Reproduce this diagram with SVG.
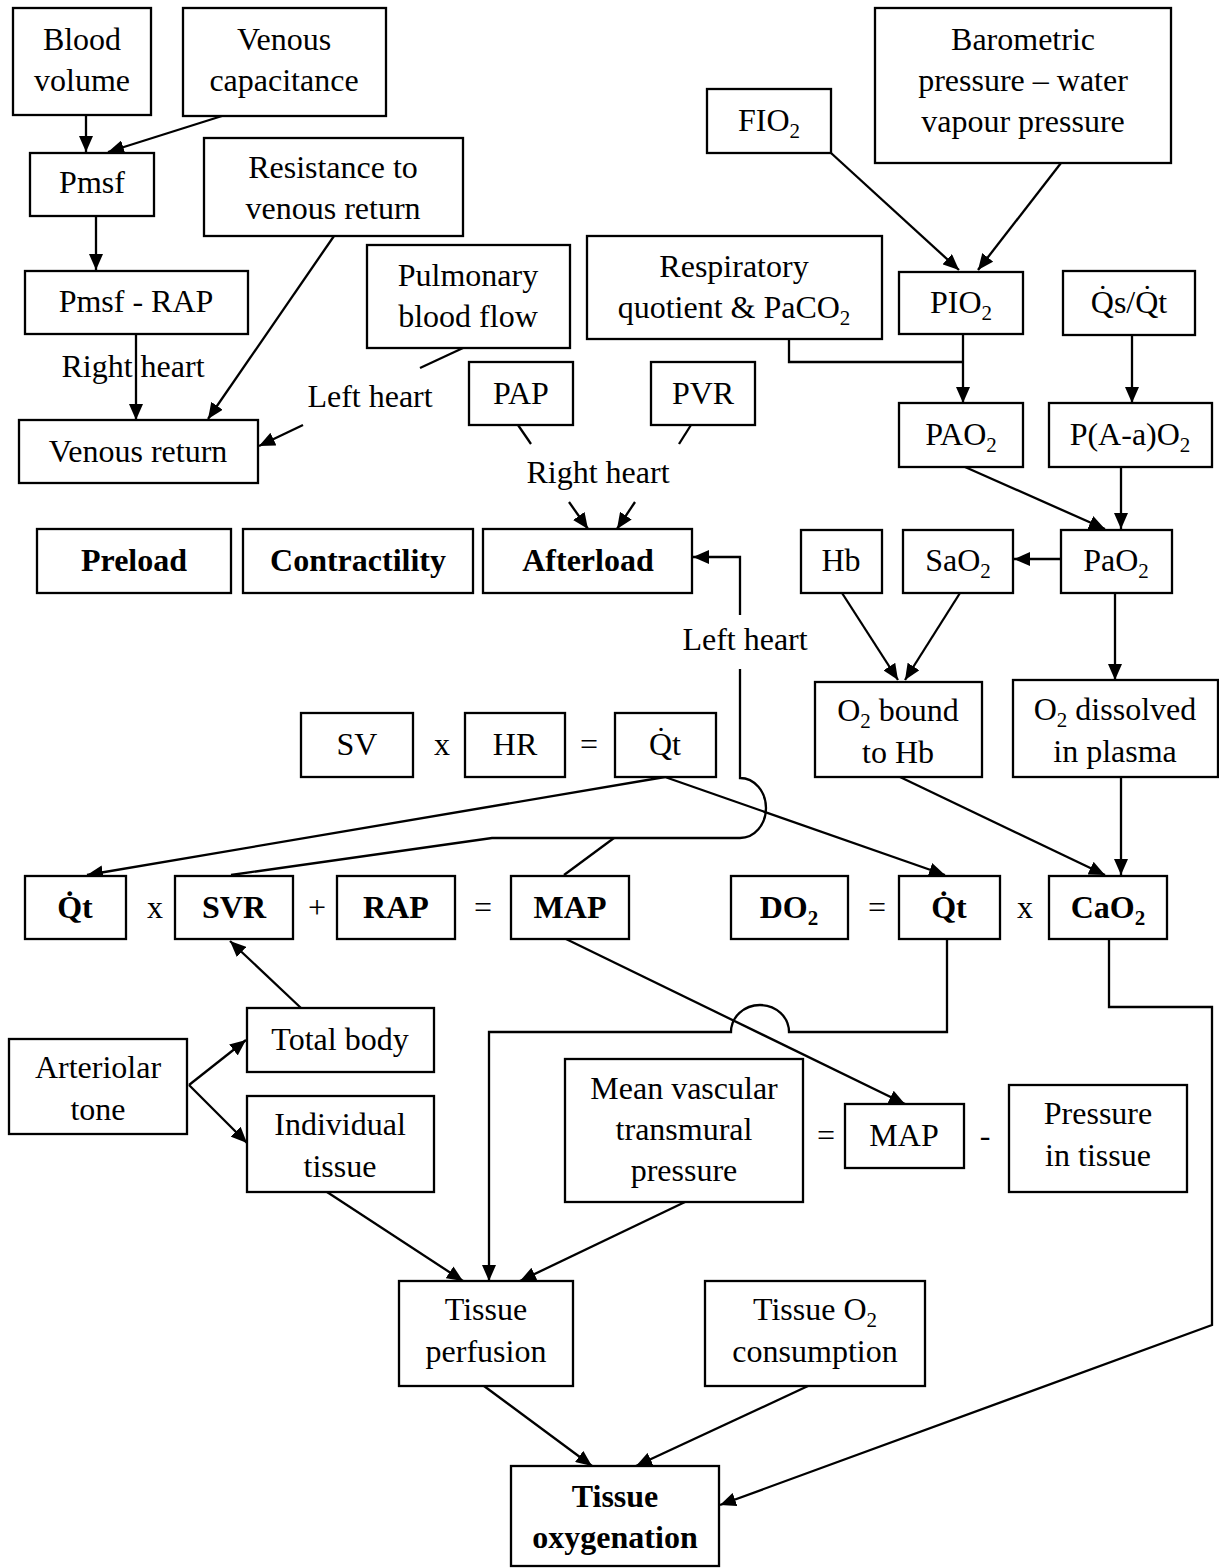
<svg xmlns="http://www.w3.org/2000/svg" width="1219" height="1568" viewBox="0 0 1219 1568">
<style>
.bx{fill:#fff;stroke:#000;stroke-width:2.3}
text{font-family:"Liberation Serif","Times New Roman",serif;font-size:32px;fill:#000;text-anchor:middle}
.b{font-weight:bold}
.c{fill:none;stroke:#000;stroke-width:2.3}
.s{font-size:21px}
</style>
<defs>
<marker id="ah" markerUnits="userSpaceOnUse" markerWidth="17" markerHeight="14" refX="16" refY="7" orient="auto">
<path d="M0,0 L16,7 L0,14 z" fill="#000"/>
</marker>
</defs>
<rect width="1219" height="1568" fill="#fff"/>

<g id="connectors">
<path class="c" d="M86,115 V152" marker-end="url(#ah)"/>
<path class="c" d="M222,116 L108,152" marker-end="url(#ah)"/>
<path class="c" d="M96,216 V270" marker-end="url(#ah)"/>
<path class="c" d="M136,334 V420" marker-end="url(#ah)"/>
<path class="c" d="M334,236 L208,419" marker-end="url(#ah)"/>
<path class="c" d="M463,348 L420,368"/>
<path class="c" d="M303,425 L259,446" marker-end="url(#ah)"/>
<path class="c" d="M518,425 L531,444"/>
<path class="c" d="M691,425 L679,444"/>
<path class="c" d="M569,502 L588,529" marker-end="url(#ah)"/>
<path class="c" d="M635,502 L617,529" marker-end="url(#ah)"/>
<path class="c" d="M740,615 V557 H693" marker-end="url(#ah)"/>
<path class="c" d="M740,669 V778 A26 30 0 0 1 740,838 H492 L231,875"/>
<path class="c" d="M614,838 L564,875"/>
<path class="c" d="M665,777 L87,875" marker-end="url(#ah)"/>
<path class="c" d="M665,777 L945,875" marker-end="url(#ah)"/>
<path class="c" d="M789,339 V362 H963"/>
<path class="c" d="M963,334 V403" marker-end="url(#ah)"/>
<path class="c" d="M831,153 L959,270" marker-end="url(#ah)"/>
<path class="c" d="M1061,163 L978,270" marker-end="url(#ah)"/>
<path class="c" d="M1132,334 V403" marker-end="url(#ah)"/>
<path class="c" d="M965,467 L1105,529" marker-end="url(#ah)"/>
<path class="c" d="M1121,467 V529" marker-end="url(#ah)"/>
<path class="c" d="M1061,559 H1014" marker-end="url(#ah)"/>
<path class="c" d="M842,593 L898,680" marker-end="url(#ah)"/>
<path class="c" d="M960,593 L905,680" marker-end="url(#ah)"/>
<path class="c" d="M1115,593 V680" marker-end="url(#ah)"/>
<path class="c" d="M900,777 L1105,875" marker-end="url(#ah)"/>
<path class="c" d="M1121,777 V875" marker-end="url(#ah)"/>
<path class="c" d="M301,1008 L230,941" marker-end="url(#ah)"/>
<path class="c" d="M189,1085 L246,1040" marker-end="url(#ah)"/>
<path class="c" d="M189,1085 L247,1143" marker-end="url(#ah)"/>
<path class="c" d="M566,939 L905,1104" marker-end="url(#ah)"/>
<path class="c" d="M947,939 V1032 H789 A29 27 0 0 0 731,1032 H489 V1281" marker-end="url(#ah)"/>
<path class="c" d="M327,1192 L463,1281" marker-end="url(#ah)"/>
<path class="c" d="M685,1202 L520,1281" marker-end="url(#ah)"/>
<path class="c" d="M1109,939 V1007 H1212 V1325 L720,1505" marker-end="url(#ah)"/>
<path class="c" d="M484,1386 L592,1466" marker-end="url(#ah)"/>
<path class="c" d="M808,1386 L636,1466" marker-end="url(#ah)"/>
</g>

<g id="labels">
<text x="133" y="377">Right heart</text>
<text x="370" y="407">Left heart</text>
<text x="598" y="483">Right heart</text>
<text x="745" y="650">Left heart</text>
<text x="442" y="755">x</text>
<text x="589" y="755">=</text>
<text x="155" y="918">x</text>
<text x="317" y="918">+</text>
<text x="483" y="918">=</text>
<text x="877" y="918">=</text>
<text x="1025" y="918">x</text>
<text x="826" y="1146">=</text>
<text x="985" y="1146">-</text>
</g>

<g id="n-blood-volume"><rect class="bx" x="13" y="8" width="138" height="107"/><text x="82" y="50">Blood</text><text x="82" y="91">volume</text></g>
<g id="n-venous-capacitance"><rect class="bx" x="183" y="8" width="203" height="108"/><text x="284" y="50">Venous</text><text x="284" y="91">capacitance</text></g>
<g id="n-pmsf"><rect class="bx" x="30" y="153" width="124" height="63"/><text x="92" y="193">Pmsf</text></g>
<g id="n-resistance"><rect class="bx" x="204" y="138" width="259" height="98"/><text x="333" y="178">Resistance to</text><text x="333" y="219">venous return</text></g>
<g id="n-pmsf-rap"><rect class="bx" x="25" y="271" width="223" height="63"/><text x="136" y="312">Pmsf - RAP</text></g>
<g id="n-pbf"><rect class="bx" x="367" y="245" width="203" height="103"/><text x="468" y="286">Pulmonary</text><text x="468" y="327">blood flow</text></g>
<g id="n-resp"><rect class="bx" x="587" y="236" width="295" height="103"/><text x="734" y="277">Respiratory</text><text x="734" y="318">quotient &amp; PaCO<tspan class="s" dy="7">2</tspan></text></g>
<g id="n-fio2"><rect class="bx" x="707" y="89" width="124" height="64"/><text x="769" y="131">FIO<tspan class="s" dy="7">2</tspan></text></g>
<g id="n-baro"><rect class="bx" x="875" y="8" width="296" height="155"/><text x="1023" y="50">Barometric</text><text x="1023" y="91">pressure – water</text><text x="1023" y="132">vapour pressure</text></g>
<g id="n-pio2"><rect class="bx" x="899" y="272" width="124" height="62"/><text x="961" y="313">PIO<tspan class="s" dy="7">2</tspan></text></g>
<g id="n-qsqt"><rect class="bx" x="1063" y="271" width="132" height="64"/><text x="1129" y="313">Q̇s/Q̇t</text></g>
<g id="n-pao2-alv"><rect class="bx" x="899" y="403" width="124" height="64"/><text x="961" y="445">PAO<tspan class="s" dy="7">2</tspan></text></g>
<g id="n-aa"><rect class="bx" x="1049" y="403" width="163" height="64"/><text x="1130" y="445">P(A-a)O<tspan class="s" dy="7">2</tspan></text></g>
<g id="n-pap"><rect class="bx" x="469" y="362" width="104" height="63"/><text x="521" y="404">PAP</text></g>
<g id="n-pvr"><rect class="bx" x="651" y="362" width="104" height="63"/><text x="703" y="404">PVR</text></g>
<g id="n-venous-return"><rect class="bx" x="19" y="420" width="239" height="63"/><text x="138" y="462">Venous return</text></g>
<g id="n-preload"><rect class="bx" x="37" y="529" width="194" height="64"/><text class="b" x="134" y="571">Preload</text></g>
<g id="n-contractility"><rect class="bx" x="243" y="529" width="230" height="64"/><text class="b" x="358" y="571">Contractility</text></g>
<g id="n-afterload"><rect class="bx" x="483" y="529" width="209" height="64"/><text class="b" x="588" y="571">Afterload</text></g>
<g id="n-hb"><rect class="bx" x="801" y="530" width="81" height="63"/><text x="841" y="571">Hb</text></g>
<g id="n-sao2"><rect class="bx" x="903" y="530" width="110" height="63"/><text x="958" y="571">SaO<tspan class="s" dy="7">2</tspan></text></g>
<g id="n-pao2"><rect class="bx" x="1061" y="530" width="111" height="63"/><text x="1116" y="571">PaO<tspan class="s" dy="7">2</tspan></text></g>
<g id="n-sv"><rect class="bx" x="301" y="713" width="112" height="64"/><text x="357" y="755">SV</text></g>
<g id="n-hr"><rect class="bx" x="465" y="713" width="100" height="64"/><text x="515" y="755">HR</text></g>
<g id="n-qt-top"><rect class="bx" x="615" y="713" width="101" height="64"/><text x="665" y="755">Q̇t</text></g>
<g id="n-o2-bound"><rect class="bx" x="815" y="682" width="167" height="95"/><text x="898" y="721">O<tspan class="s" dy="7">2</tspan><tspan dy="-7"> bound</tspan></text><text x="898" y="763">to Hb</text></g>
<g id="n-o2-dissolved"><rect class="bx" x="1013" y="680" width="205" height="97"/><text x="1115" y="720">O<tspan class="s" dy="7">2</tspan><tspan dy="-7"> dissolved</tspan></text><text x="1115" y="762">in plasma</text></g>
<g id="n-qt-left"><rect class="bx" x="25" y="876" width="101" height="63"/><text class="b" x="75" y="918">Q̇t</text></g>
<g id="n-svr"><rect class="bx" x="175" y="876" width="118" height="63"/><text class="b" x="234" y="918">SVR</text></g>
<g id="n-rap"><rect class="bx" x="337" y="876" width="118" height="63"/><text class="b" x="396" y="918">RAP</text></g>
<g id="n-map"><rect class="bx" x="511" y="876" width="118" height="63"/><text class="b" x="570" y="918">MAP</text></g>
<g id="n-do2"><rect class="bx" x="731" y="876" width="117" height="63"/><text class="b" x="789" y="918">DO<tspan class="s" dy="7">2</tspan></text></g>
<g id="n-qt-right"><rect class="bx" x="899" y="876" width="101" height="63"/><text class="b" x="949" y="918">Q̇t</text></g>
<g id="n-cao2"><rect class="bx" x="1049" y="876" width="118" height="63"/><text class="b" x="1108" y="918">CaO<tspan class="s" dy="7">2</tspan></text></g>
<g id="n-total-body"><rect class="bx" x="247" y="1008" width="187" height="64"/><text x="340" y="1050">Total body</text></g>
<g id="n-arteriolar"><rect class="bx" x="9" y="1039" width="178" height="95"/><text x="98" y="1078">Arteriolar</text><text x="98" y="1120">tone</text></g>
<g id="n-individual"><rect class="bx" x="247" y="1096" width="187" height="96"/><text x="340" y="1135">Individual</text><text x="340" y="1177">tissue</text></g>
<g id="n-mean-vascular"><rect class="bx" x="565" y="1059" width="238" height="143"/><text x="684" y="1099">Mean vascular</text><text x="684" y="1140">transmural</text><text x="684" y="1181">pressure</text></g>
<g id="n-map-lower"><rect class="bx" x="845" y="1104" width="119" height="64"/><text x="904" y="1146">MAP</text></g>
<g id="n-pressure-tissue"><rect class="bx" x="1009" y="1085" width="178" height="107"/><text x="1098" y="1124">Pressure</text><text x="1098" y="1166">in tissue</text></g>
<g id="n-tissue-perfusion"><rect class="bx" x="399" y="1281" width="174" height="105"/><text x="486" y="1320">Tissue</text><text x="486" y="1362">perfusion</text></g>
<g id="n-tissue-o2"><rect class="bx" x="705" y="1281" width="220" height="105"/><text x="815" y="1320">Tissue O<tspan class="s" dy="7">2</tspan></text><text x="815" y="1362">consumption</text></g>
<g id="n-tissue-oxygenation"><rect class="bx" x="511" y="1466" width="208" height="100"/><text class="b" x="615" y="1507">Tissue</text><text class="b" x="615" y="1548">oxygenation</text></g>
</svg>
